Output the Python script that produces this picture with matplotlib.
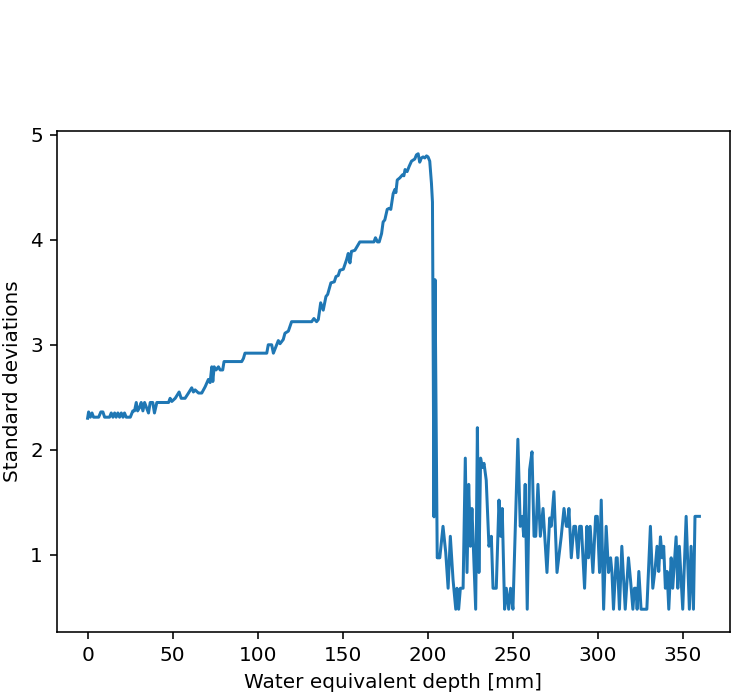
import matplotlib
matplotlib.use("Agg")
import matplotlib.pyplot as plt

depth_mm = [
    0.0, 0.6, 1.6, 2.6, 3.5, 6.5, 7.8, 9.0, 10.0, 12.9, 13.9, 14.9, 15.9, 16.8, 17.8, 18.8, 19.8, 20.8, 21.7, 22.7, 25.1,
    26.6, 27.6, 28.6, 29.4, 30.5, 31.5, 32.5, 33.5, 35.8, 36.8, 38.3, 39.3, 40.7, 47.6, 48.5, 49.5, 51.5, 53.8, 55.0,
    57.3, 59.3, 61.2, 62.2, 63.2, 65.2, 67.1, 69.1, 71.0, 72.0, 73.0, 73.6, 74.4, 75.5, 76.9, 77.9, 79.4, 80.2, 90.6,
    91.6, 92.5, 105.3, 106.2, 108.2, 109.2, 112.1, 113.1, 115.0, 116.0, 118.0, 119.9, 131.7, 133.0, 134.6, 135.6,
    137.0, 138.5, 140.1, 141.1, 143.0, 145.0, 146.0, 147.3, 148.3, 150.3, 152.2, 153.2, 154.2, 155.1, 157.1, 160.0,
    168.3, 169.2, 170.4, 171.4, 172.8, 173.7, 174.7, 176.1, 177.2, 178.2, 179.6, 180.6, 181.2, 182.0, 183.5, 185.1,
    185.9, 186.6, 187.8, 189.0, 190.4, 192.3, 193.3, 194.3, 195.2, 196.2, 197.2, 198.2, 199.2, 200.1, 201.1, 202.1,
    202.7, 203.6, 204.2, 205.5, 207.0, 208.9, 210.5, 211.9, 213.2, 214.8, 216.4, 217.1, 218.1, 219.1, 220.7, 222.0,
    223.0, 224.0, 225.0, 225.9, 228.1, 229.1, 230.0, 231.0, 232.0, 233.0, 234.3, 235.9, 237.3, 238.3, 240.2, 241.8,
    242.8, 243.7, 245.1, 246.1, 247.5, 248.6, 250.0, 252.9, 254.3, 255.5, 256.3, 257.2, 258.4, 259.8, 261.2, 262.4,
    263.4, 264.7, 266.1, 267.7, 270.0, 271.6, 272.5, 274.1, 275.9, 278.4, 280.0, 281.4, 282.2, 282.9, 284.3, 285.8,
    286.8, 288.2, 289.2, 290.2, 292.1, 293.5, 294.4, 295.4, 297.0, 298.6, 299.6, 300.9, 301.9, 303.3, 304.8, 306.2,
    307.4, 308.2, 309.1, 310.7, 311.3, 312.6, 314.0, 316.0, 317.9, 319.1, 320.5, 321.4, 322.3, 323.0, 324.0, 325.3,
    328.7, 330.8, 332.2, 333.6, 334.7, 335.7, 336.7, 337.7, 338.6, 339.6, 340.6, 341.6, 343.0, 343.9, 345.9, 346.9,
    347.8, 349.8, 351.8, 353.7, 354.7, 356.1, 357.0, 359.6,
]

std_devs = [
    2.30, 2.36, 2.31, 2.35, 2.31, 2.31, 2.36, 2.36, 2.31, 2.31, 2.35, 2.31, 2.35, 2.31, 2.35, 2.31, 2.35, 2.31, 2.35, 2.31, 2.31,
    2.37, 2.37, 2.45, 2.37, 2.40, 2.45, 2.37, 2.45, 2.35, 2.45, 2.45, 2.35, 2.45, 2.45, 2.49, 2.46, 2.49, 2.55, 2.49,
    2.49, 2.54, 2.59, 2.55, 2.57, 2.54, 2.54, 2.60, 2.67, 2.64, 2.79, 2.65, 2.79, 2.76, 2.79, 2.76, 2.76, 2.84, 2.84,
    2.87, 2.92, 2.92, 3.00, 3.00, 2.92, 3.04, 3.01, 3.05, 3.11, 3.13, 3.22, 3.22, 3.25, 3.22, 3.24,
    3.40, 3.33, 3.46, 3.48, 3.59, 3.60, 3.65, 3.66, 3.71, 3.72, 3.81, 3.87, 3.78, 3.89, 3.90, 3.98,
    3.98, 4.02, 3.98, 3.98, 4.06, 4.17, 4.19, 4.29, 4.30, 4.29, 4.44, 4.48, 4.45, 4.57, 4.59, 4.62,
    4.61, 4.67, 4.65, 4.70, 4.75, 4.77, 4.81, 4.82, 4.74, 4.78, 4.79, 4.78, 4.80, 4.79, 4.75, 4.54,
    4.36, 1.36, 3.62, 0.97, 0.97, 1.27, 1.02, 0.68, 1.175, 0.76, 0.48, 0.68, 0.48, 0.68, 0.68, 1.92,
    0.83, 1.67, 1.08, 1.44, 0.48, 2.21, 0.83, 1.92, 1.83, 1.87, 1.71, 1.08, 1.175, 0.68, 0.68, 1.52,
    1.175, 1.44, 0.48, 0.68, 0.48, 0.68, 0.48, 2.10, 1.27, 1.365, 1.175, 1.67, 0.48, 1.81, 1.98, 1.175,
    1.175, 1.67, 1.175, 1.44, 0.83, 1.35, 1.27, 1.60, 0.83, 1.175, 1.44, 1.27, 1.27, 1.44, 0.97, 1.27,
    1.27, 0.97, 1.27, 1.27, 0.68, 1.27, 0.97, 1.27, 0.83, 1.365, 1.365, 0.83, 1.52, 0.48, 1.27, 0.83,
    0.97, 0.83, 0.48, 0.97, 0.97, 0.48, 1.08, 0.48, 0.97, 0.76, 0.48, 0.68, 0.68, 0.48, 0.84, 0.48,
    0.48, 1.27, 0.68, 0.87, 1.08, 0.84, 1.17, 0.97, 1.08, 0.68, 0.84, 0.48, 0.97, 0.68, 1.17, 0.68,
    1.08, 0.48, 1.365, 0.48, 1.08, 0.48, 1.365, 1.365,
]

assert len(depth_mm) == len(std_devs), (len(depth_mm), len(std_devs))

fig = plt.figure(figsize=(737 / 144, 696 / 144), dpi=144)
ax = fig.add_axes([57 / 737, 64 / 696, (730 - 57) / 737, (632 - 131) / 696])
ax.plot(depth_mm, std_devs, color="#1f77b4", linewidth=1.5)
ax.set_xlabel("Water equivalent depth [mm]")
ax.set_ylabel("Standard deviations")
ax.set_xticks([0, 50, 100, 150, 200, 250, 300, 350])
ax.set_yticks([1, 2, 3, 4, 5])
fig.savefig("out.png", dpi=144)
